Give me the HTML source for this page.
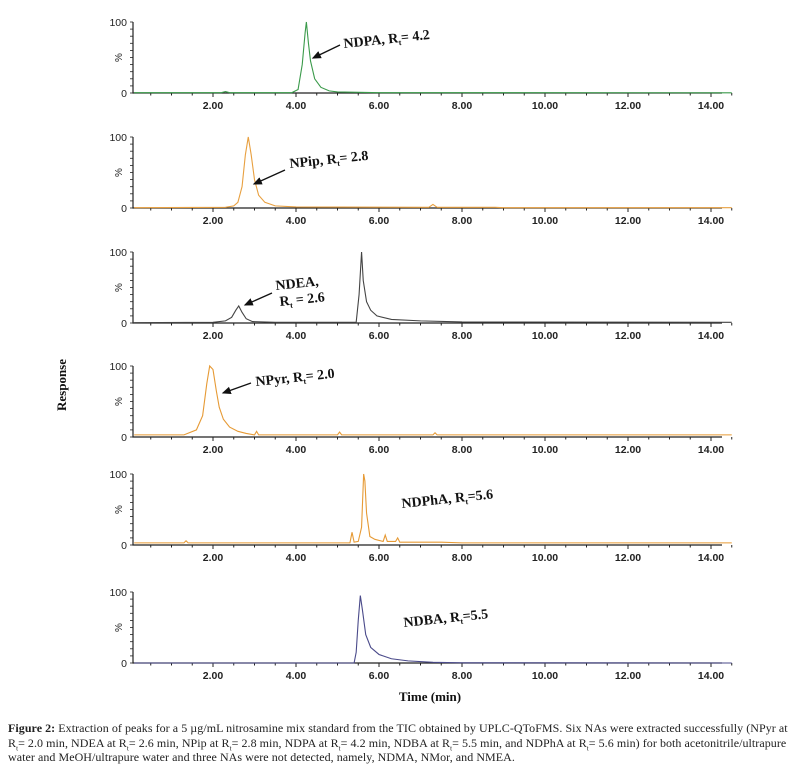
<!DOCTYPE html>
<html><head><meta charset="utf-8"><style>
body{margin:0;background:#fff;width:800px;height:768px;overflow:hidden}
svg{position:absolute;left:0;top:0}
.cap{position:absolute;left:8px;top:721px;width:800px;font:12px/14.5px "Liberation Serif",serif;color:#222;letter-spacing:0.05px;white-space:nowrap}
.cap sub{font-size:7px;line-height:0}
</style></head><body>
<svg id="chart" width="800" height="768"></svg>
<div class="cap"><b>Figure 2:</b> Extraction of peaks for a 5 µg/mL nitrosamine mix standard from the TIC obtained by UPLC-QToFMS. Six NAs were extracted successfully (NPyr at<br>R<sub>t</sub>= 2.0 min, NDEA at R<sub>t</sub>= 2.6 min, NPip at R<sub>t</sub>= 2.8 min, NDPA at R<sub>t</sub>= 4.2 min, NDBA at R<sub>t</sub>= 5.5 min, and NDPhA at R<sub>t</sub>= 5.6 min) for both acetonitrile/ultrapure<br>water and MeOH/ultrapure water and three NAs were not detected, namely, NDMA, NMor, and NMEA.</div>
<script>
const xTicks=[2,4,6,8,10,12,14];
const xTickLabels=["2.00","4.00","6.00","8.00","10.00","12.00","14.00"];
const ndpaT=[0.1,2.2,2.3,2.4,3.9,4.05,4.15,4.22,4.25,4.3,4.35,4.45,4.6,4.8,5.0,6,14.5];
const ndpaV=[0.5,0.5,2,0.5,0.5,5,40,85,100,70,45,20,8,3,1.5,0.5,0.3];
const npipT=[0.1,2.3,2.5,2.6,2.7,2.78,2.85,2.92,3.0,3.1,3.25,3.5,4.0,7.2,7.3,7.4,8.8,9,14.5];
const npipV=[0.5,1,3,8,30,75,100,75,40,18,8,3,1.5,1,5,1,1,0.5,0.5];
const ndeaT=[0.1,2.0,2.3,2.45,2.55,2.62,2.7,2.8,2.95,3.5,5.45,5.52,5.58,5.62,5.7,5.8,5.95,6.3,7,8,14.5];
const ndeaV=[0.5,1,3,8,18,24,15,6,2,1,1,40,100,60,30,18,10,5,3,1.5,1];
const npyrT=[0.1,1.3,1.6,1.75,1.85,1.92,2.0,2.08,2.15,2.25,2.4,2.6,2.8,3.0,3.05,3.1,4,5,5.05,5.1,6,7.3,7.35,7.4,9,14.5];
const npyrV=[3,3,10,30,75,100,95,65,42,25,14,8,5,3,8,3,3,3,7,3,3,3,6,3,3,3];
const ndphaT=[0.1,1.3,1.35,1.4,5.3,5.35,5.4,5.5,5.58,5.63,5.66,5.7,5.78,5.9,6.1,6.15,6.2,6.4,6.45,6.5,7.5,8,14.5];
const ndphaV=[3,3,6,3,3,18,4,5,25,100,90,45,12,8,5,14,5,5,10,4,4,3,3];
const ndbaT=[0.1,5.4,5.45,5.5,5.55,5.6,5.68,5.8,6.0,6.3,6.7,7.3,8,14.5];
const ndbaV=[0,0,15,60,95,75,40,22,12,6,3,1,0.3,0];
const panels=[
 {t:ndpaT,v:ndpaV,c:"#3a9a4a",base:93,name:"ndpa"},
 {t:npipT,v:npipV,c:"#e8a040",base:208,name:"npip"},
 {t:ndeaT,v:ndeaV,c:"#444",base:323,name:"ndea"},
 {t:npyrT,v:npyrV,c:"#e69a35",base:437,name:"npyr"},
 {t:ndphaT,v:ndphaV,c:"#e69a35",base:545,name:"ndpha"},
 {t:ndbaT,v:ndbaV,c:"#4a4a8a",base:663,name:"ndba"}];
const labels=[
 {p:0,x:344,y:48,txt:"NDPA, R",tail:"= 4.2",ax:[340,45,313,58]},
 {p:1,x:290,y:168,txt:"NPip, R",tail:"= 2.8",ax:[285,170,254,184]},
 {p:2,x:276,y:290,txt:"NDEA,",tail:null,ax:[272,293,245,305]},
 {p:3,x:256,y:386,txt:"NPyr, R",tail:"= 2.0",ax:[251,383,223,393]},
 {p:4,x:402,y:508,txt:"NDPhA, R",tail:"=5.6",ax:null},
 {p:5,x:404,y:627,txt:"NDBA, R",tail:"=5.5",ax:null}];
const NS="http://www.w3.org/2000/svg";
const svg=document.getElementById('chart');
const X0=130,XS=41.5,H=71;
const xs=t=>X0+t*XS;
function mk(tag,attrs,parent){const e=document.createElementNS(NS,tag);for(const k in attrs)e.setAttribute(k,attrs[k]);(parent||svg).appendChild(e);return e;}
const defs=mk('defs',{});
const m=mk('marker',{id:'ah',markerWidth:8,markerHeight:8,refX:6,refY:4,orient:'auto'},defs);
mk('path',{d:'M0,1 L7,4 L0,7 z',fill:'#111'},m);
panels.forEach((p,i)=>{
 const g=mk('g',{});
 
 
 const ys=v=>p.base-v/100*H;
 const ax=mk('path',{d:`M133,${ys(100)} V${p.base} H722`,stroke:'#222','stroke-width':1.2,fill:'none'},g);
 
 
 for(let t=0.5;t<=14.5;t+=0.5){mk('line',{x1:xs(t),x2:xs(t),y1:p.base,y2:p.base+(t%2===0?4:2.5),stroke:'#222','stroke-width':1},g);}
 for(let k=0;k<=10;k++){mk('line',{x1:130,x2:133,y1:ys(k*10),y2:ys(k*10),stroke:'#222','stroke-width':0.8},g);}
 xTicks.forEach((t,j)=>{const tx=mk('text',{x:xs(t),y:p.base+16,'text-anchor':'middle','font-family':'Liberation Sans,sans-serif','font-size':10.5,'font-weight':'bold',fill:'#222'},g);tx.textContent=xTickLabels[j];});
 const a=mk('text',{x:127,y:ys(100)+4,'text-anchor':'end','font-family':'Liberation Sans,sans-serif','font-size':10.5,fill:'#222'},g);a.textContent="100";
 const b=mk('text',{x:127,y:p.base+4,'text-anchor':'end','font-family':'Liberation Sans,sans-serif','font-size':10.5,fill:'#222'},g);b.textContent="0";
 const pc=mk('text',{x:0,y:0,transform:`translate(122,${ys(50)}) rotate(-90)`,'text-anchor':'middle','font-family':'Liberation Sans,sans-serif','font-size':10,fill:'#222'},g);pc.textContent="%";
 const line=mk('polyline',{points:p.t.map((t,k)=>xs(t)+','+ys(p.v[k])).join(' '),fill:'none',stroke:p.c,'stroke-width':1.1},g);
 
 
});
labels.forEach(l=>{
 const t=mk('text',{x:l.x,y:l.y,'font-family':'Liberation Serif,serif','font-size':14,'font-weight':'bold',fill:'#111',transform:`rotate(-6 ${l.x} ${l.y})`});
 
 
 t.textContent=l.txt;
 if(l.tail){const s=mk('tspan',{'font-size':8,dy:3},t);s.textContent="t";const s2=mk('tspan',{dy:-3},t);s2.textContent=l.tail;}
 if(l.ax){const ar=mk('line',{x1:l.ax[0],y1:l.ax[1],x2:l.ax[2],y2:l.ax[3],stroke:'#111','stroke-width':1.3,'marker-end':'url(#ah)'});
  
  }
});
const t2=mk('text',{x:280,y:306,'font-family':'Liberation Serif,serif','font-size':14,'font-weight':'bold',fill:'#111',transform:'rotate(-6 280 306)'});


t2.textContent="R";{const s=mk('tspan',{'font-size':8,dy:3},t2);s.textContent="t";const s2=mk('tspan',{dy:-3},t2);s2.textContent=" = 2.6";}
const yl=mk('text',{transform:'translate(66,385) rotate(-90)','text-anchor':'middle','font-family':'Liberation Serif,serif','font-size':13,'font-weight':'bold',fill:'#111'});


yl.textContent="Response";
const xl=mk('text',{x:430,y:701,'text-anchor':'middle','font-family':'Liberation Serif,serif','font-size':13,'font-weight':'bold',fill:'#111'});


xl.textContent="Time (min)";
</script>
</body></html>
